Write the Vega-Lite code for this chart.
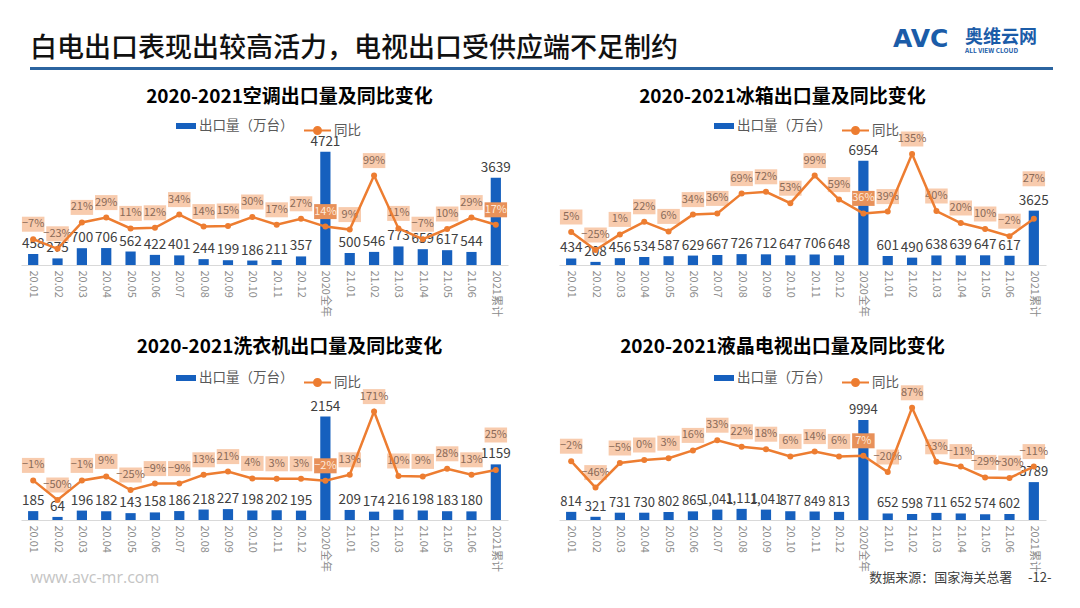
{
  "$schema": "https://vega.github.io/schema/vega-lite/v6.json",
  "background": "white",
  "padding": {"left": 21, "top": 26, "right": 0, "bottom": 10},
  "spacing": 14,
  "resolve": {"scale": {"fill": "independent", "stroke": "independent"}},
  "datasets": {
    "ac": [
      {"cat": "20.01", "vol": 458, "yoy": -0.07}, {"cat": "20.02", "vol": 275, "yoy": -0.23},
      {"cat": "20.03", "vol": 700, "yoy": 0.21}, {"cat": "20.04", "vol": 706, "yoy": 0.29},
      {"cat": "20.05", "vol": 562, "yoy": 0.11}, {"cat": "20.06", "vol": 422, "yoy": 0.12},
      {"cat": "20.07", "vol": 401, "yoy": 0.34}, {"cat": "20.08", "vol": 244, "yoy": 0.14},
      {"cat": "20.09", "vol": 199, "yoy": 0.15}, {"cat": "20.10", "vol": 186, "yoy": 0.30},
      {"cat": "20.11", "vol": 211, "yoy": 0.17}, {"cat": "20.12", "vol": 357, "yoy": 0.27},
      {"cat": "2020全年", "vol": 4721, "yoy": 0.14}, {"cat": "21.01", "vol": 500, "yoy": 0.09},
      {"cat": "21.02", "vol": 546, "yoy": 0.99}, {"cat": "21.03", "vol": 773, "yoy": 0.11},
      {"cat": "21.04", "vol": 659, "yoy": -0.07}, {"cat": "21.05", "vol": 617, "yoy": 0.10},
      {"cat": "21.06", "vol": 544, "yoy": 0.29}, {"cat": "2021累计", "vol": 3639, "yoy": 0.17}
    ],
    "fr": [
      {"cat": "20.01", "vol": 434, "yoy": 0.05}, {"cat": "20.02", "vol": 208, "yoy": -0.25},
      {"cat": "20.03", "vol": 456, "yoy": 0.01}, {"cat": "20.04", "vol": 534, "yoy": 0.22},
      {"cat": "20.05", "vol": 587, "yoy": 0.06}, {"cat": "20.06", "vol": 629, "yoy": 0.34},
      {"cat": "20.07", "vol": 667, "yoy": 0.36}, {"cat": "20.08", "vol": 726, "yoy": 0.69},
      {"cat": "20.09", "vol": 712, "yoy": 0.72}, {"cat": "20.10", "vol": 647, "yoy": 0.53},
      {"cat": "20.11", "vol": 706, "yoy": 0.99}, {"cat": "20.12", "vol": 648, "yoy": 0.59},
      {"cat": "2020全年", "vol": 6954, "yoy": 0.36}, {"cat": "21.01", "vol": 601, "yoy": 0.39},
      {"cat": "21.02", "vol": 490, "yoy": 1.35}, {"cat": "21.03", "vol": 638, "yoy": 0.40},
      {"cat": "21.04", "vol": 639, "yoy": 0.20}, {"cat": "21.05", "vol": 647, "yoy": 0.10},
      {"cat": "21.06", "vol": 617, "yoy": -0.02}, {"cat": "2021累计", "vol": 3625, "yoy": 0.27}
    ],
    "wa": [
      {"cat": "20.01", "vol": 185, "yoy": -0.01}, {"cat": "20.02", "vol": 64, "yoy": -0.50},
      {"cat": "20.03", "vol": 196, "yoy": -0.01}, {"cat": "20.04", "vol": 182, "yoy": 0.09},
      {"cat": "20.05", "vol": 143, "yoy": -0.25}, {"cat": "20.06", "vol": 158, "yoy": -0.09},
      {"cat": "20.07", "vol": 186, "yoy": -0.09}, {"cat": "20.08", "vol": 218, "yoy": 0.13},
      {"cat": "20.09", "vol": 227, "yoy": 0.21}, {"cat": "20.10", "vol": 198, "yoy": 0.04},
      {"cat": "20.11", "vol": 202, "yoy": 0.03}, {"cat": "20.12", "vol": 195, "yoy": 0.03},
      {"cat": "2020全年", "vol": 2154, "yoy": -0.02}, {"cat": "21.01", "vol": 209, "yoy": 0.13},
      {"cat": "21.02", "vol": 174, "yoy": 1.71}, {"cat": "21.03", "vol": 216, "yoy": 0.10},
      {"cat": "21.04", "vol": 198, "yoy": 0.09}, {"cat": "21.05", "vol": 183, "yoy": 0.28},
      {"cat": "21.06", "vol": 180, "yoy": 0.13}, {"cat": "2021累计", "vol": 1159, "yoy": 0.25}
    ],
    "tv": [
      {"cat": "20.01", "vol": 814, "lab": "814", "yoy": -0.02}, {"cat": "20.02", "vol": 321, "lab": "321", "yoy": -0.46},
      {"cat": "20.03", "vol": 731, "lab": "731", "yoy": -0.05}, {"cat": "20.04", "vol": 730, "lab": "730", "yoy": 0.00},
      {"cat": "20.05", "vol": 802, "lab": "802", "yoy": 0.03}, {"cat": "20.06", "vol": 865, "lab": "865", "yoy": 0.16},
      {"cat": "20.07", "vol": 1041, "lab": "1,041", "yoy": 0.33}, {"cat": "20.08", "vol": 1111, "lab": "1,111", "yoy": 0.22},
      {"cat": "20.09", "vol": 1041, "lab": "1,041", "yoy": 0.18}, {"cat": "20.10", "vol": 877, "lab": "877", "yoy": 0.06},
      {"cat": "20.11", "vol": 849, "lab": "849", "yoy": 0.14}, {"cat": "20.12", "vol": 813, "lab": "813", "yoy": 0.06},
      {"cat": "2020全年", "vol": 9994, "lab": "9994", "yoy": 0.07}, {"cat": "21.01", "vol": 652, "lab": "652", "yoy": -0.20},
      {"cat": "21.02", "vol": 598, "lab": "598", "yoy": 0.87}, {"cat": "21.03", "vol": 711, "lab": "711", "yoy": -0.03},
      {"cat": "21.04", "vol": 652, "lab": "652", "yoy": -0.11}, {"cat": "21.05", "vol": 574, "lab": "574", "yoy": -0.29},
      {"cat": "21.06", "vol": 602, "lab": "602", "yoy": -0.30}, {"cat": "2021累计", "vol": 3789, "lab": "3789", "yoy": -0.11}
    ]
  },
  "vconcat": [
    {
      "hconcat": [
        {"width": 9, "height": 3, "data": {"values": [{}]}, "mark": "text", "encoding": {"text": {"value": ""}}},
        {"width": 863, "height": 3, "view": {"fill": "#2B64A0", "stroke": null},
         "title": {"text": "白电出口表现出较高活力，电视出口受供应端不足制约", "anchor": "start", "fontSize": 27, "fontWeight": 500, "color": "#111111", "offset": 0},
         "data": {"values": [{}]}, "mark": "text", "encoding": {"text": {"value": ""}}},
        {"width": 68, "height": 3, "view": {"fill": "#2B64A0", "stroke": null},
         "title": {"text": "AVC", "anchor": "start", "fontSize": 25, "fontWeight": "bold", "font": "DejaVu Sans", "color": "#1B5CA8", "offset": 11},
         "data": {"values": [{}]}, "mark": "text", "encoding": {"text": {"value": ""}}},
        {"width": 92, "height": 3, "view": {"fill": "#2B64A0", "stroke": null},
         "title": {"text": "奥维云网", "subtitle": "ALL VIEW CLOUD", "anchor": "start", "dx": 4, "fontSize": 18, "fontWeight": "bold", "color": "#1B5CA8", "subtitleFontSize": 6.5, "subtitleFontWeight": "bold", "subtitleColor": "#1B5CA8", "subtitlePadding": 1, "offset": 8},
         "data": {"values": [{}]}, "mark": "text", "encoding": {"text": {"value": ""}}}
      ],
      "spacing": 0,
      "bounds": "flush"
    },
    {
      "vconcat": [
        {
          "hconcat": [
            {
              "width": 487, "height": 120,
              "data": {"name": "ac"},
              "title": {"text": "2020-2021空调出口量及同比变化", "dx": 25, "offset": 9},
              "encoding": {"x": {"field": "cat", "type": "nominal", "sort": null, "scale": {"paddingInner": 0.58, "paddingOuter": 0.29}}},
              "layer": [
                {"mark": {"type": "bar"}, "encoding": {"y": {"field": "vol", "type": "quantitative", "scale": {"domain": [0, 5000], "nice": false}, "axis": null},
                  "fill": {"datum": "出口量（万台）", "type": "nominal", "scale": {"range": ["#1660BE"]}, "legend": {"legendX": 155, "legendY": -29, "symbolType": "M-1,-0.3H1V0.3H-1Z", "symbolSize": 400, "labelOffset": 3}}}},
                {"mark": {"type": "point", "shape": "M-1.5,-1H1.5V1H-1.5Z", "size": 225, "filled": true, "opacity": 1, "strokeWidth": 0, "yOffset": -15},
                  "encoding": {"y": {"field": "yoy", "type": "quantitative", "scale": {"domain": [-0.5, 1.5], "nice": false}, "axis": null},
                    "color": {"condition": {"test": "datum.cat==='2020全年'||datum.cat==='2021累计'", "value": "#E8915A"}, "value": "#F8CBAD"}}},
                {"mark": {"type": "text", "fontSize": 11, "dy": -15},
                  "encoding": {"y": {"field": "yoy", "type": "quantitative", "scale": {"domain": [-0.5, 1.5], "nice": false}, "axis": null},
                    "text": {"field": "yoy", "type": "quantitative", "format": ".0%"},
                    "color": {"condition": {"test": "datum.cat==='2020全年'||datum.cat==='2021累计'", "value": "#FDE9D9"}, "value": "#8A6A58"}}},
                {"mark": {"type": "text", "fontSize": 13.5, "baseline": "bottom", "dy": -3, "color": "#404040"},
                  "encoding": {"y": {"field": "vol", "type": "quantitative", "scale": {"domain": [0, 5000], "nice": false}, "axis": null},
                    "text": {"field": "vol", "type": "quantitative", "format": "d"}}},
                {"mark": {"type": "line", "strokeWidth": 2.5},
                  "encoding": {"y": {"field": "yoy", "type": "quantitative", "scale": {"domain": [-0.5, 1.5], "nice": false}, "axis": null},
                    "stroke": {"datum": "同比", "type": "nominal", "scale": {"range": ["#ED7D31"]}, "legend": {"legendX": 282, "legendY": -29, "symbolType": "M-1,0H1M0.26,0A0.26,0.26,0,1,1,-0.26,0A0.26,0.26,0,1,1,0.26,0Z", "symbolSize": 729, "symbolStrokeWidth": 2, "labelOffset": 2, "encode": {"symbols": {"update": {"fill": {"value": "#ED7D31"}}}}}}}},
                {"mark": {"type": "circle", "size": 36, "opacity": 1, "color": "#ED7D31"},
                  "encoding": {"y": {"field": "yoy", "type": "quantitative", "scale": {"domain": [-0.5, 1.5], "nice": false}, "axis": null}}}
              ],
              "resolve": {"scale": {"y": "independent"}}
            },
            {
              "width": 487, "height": 120,
              "data": {"name": "fr"},
              "title": {"text": "2020-2021冰箱出口量及同比变化", "dx": -20, "offset": 9},
              "encoding": {"x": {"field": "cat", "type": "nominal", "sort": null, "scale": {"paddingInner": 0.58, "paddingOuter": 0.29}}},
              "layer": [
                {"mark": {"type": "bar"}, "encoding": {"y": {"field": "vol", "type": "quantitative", "scale": {"domain": [0, 8000], "nice": false}, "axis": null},
                  "fill": {"datum": "出口量（万台）", "type": "nominal", "scale": {"range": ["#1660BE"]}, "legend": {"legendX": 155, "legendY": -29, "symbolType": "M-1,-0.3H1V0.3H-1Z", "symbolSize": 400, "labelOffset": 3}}}},
                {"transform": [{"filter": "datum.cat!=='2021累计'"}],
                  "mark": {"type": "point", "shape": "M-1.5,-1H1.5V1H-1.5Z", "size": 225, "filled": true, "opacity": 1, "strokeWidth": 0, "yOffset": -15},
                  "encoding": {"y": {"field": "yoy", "type": "quantitative", "scale": {"domain": [-0.5, 1.5], "nice": false}, "axis": null},
                    "color": {"condition": {"test": "datum.cat==='2020全年'", "value": "#E8915A"}, "value": "#F8CBAD"}}},
                {"transform": [{"filter": "datum.cat!=='2021累计'"}],
                  "mark": {"type": "text", "fontSize": 11, "dy": -15},
                  "encoding": {"y": {"field": "yoy", "type": "quantitative", "scale": {"domain": [-0.5, 1.5], "nice": false}, "axis": null},
                    "text": {"field": "yoy", "type": "quantitative", "format": ".0%"},
                    "color": {"condition": {"test": "datum.cat==='2020全年'", "value": "#FDE9D9"}, "value": "#8A6A58"}}},
                {"transform": [{"filter": "datum.cat==='2021累计'"}],
                  "mark": {"type": "point", "shape": "M-1.5,-1H1.5V1H-1.5Z", "size": 225, "filled": true, "opacity": 1, "strokeWidth": 0, "yOffset": -40, "color": "#F8CBAD"},
                  "encoding": {"y": {"field": "yoy", "type": "quantitative", "scale": {"domain": [-0.5, 1.5], "nice": false}, "axis": null}}},
                {"transform": [{"filter": "datum.cat==='2021累计'"}],
                  "mark": {"type": "text", "fontSize": 11, "dy": -40, "color": "#8A6A58"},
                  "encoding": {"y": {"field": "yoy", "type": "quantitative", "scale": {"domain": [-0.5, 1.5], "nice": false}, "axis": null},
                    "text": {"field": "yoy", "type": "quantitative", "format": ".0%"}}},
                {"mark": {"type": "text", "fontSize": 13.5, "baseline": "bottom", "dy": -3, "color": "#404040"},
                  "encoding": {"y": {"field": "vol", "type": "quantitative", "scale": {"domain": [0, 8000], "nice": false}, "axis": null},
                    "text": {"field": "vol", "type": "quantitative", "format": "d"}}},
                {"mark": {"type": "line", "strokeWidth": 2.5},
                  "encoding": {"y": {"field": "yoy", "type": "quantitative", "scale": {"domain": [-0.5, 1.5], "nice": false}, "axis": null},
                    "stroke": {"datum": "同比", "type": "nominal", "scale": {"range": ["#ED7D31"]}, "legend": {"legendX": 282, "legendY": -29, "symbolType": "M-1,0H1M0.26,0A0.26,0.26,0,1,1,-0.26,0A0.26,0.26,0,1,1,0.26,0Z", "symbolSize": 729, "symbolStrokeWidth": 2, "labelOffset": 2, "encode": {"symbols": {"update": {"fill": {"value": "#ED7D31"}}}}}}}},
                {"mark": {"type": "circle", "size": 36, "opacity": 1, "color": "#ED7D31"},
                  "encoding": {"y": {"field": "yoy", "type": "quantitative", "scale": {"domain": [-0.5, 1.5], "nice": false}, "axis": null}}}
              ],
              "resolve": {"scale": {"y": "independent"}}
            }
          ],
          "spacing": 51,
          "bounds": "flush",
          "resolve": {"scale": {"fill": "independent", "stroke": "independent"}}
        },
        {
          "hconcat": [
            {
              "width": 487, "height": 120,
              "data": {"name": "wa"},
              "title": {"text": "2020-2021洗衣机出口量及同比变化", "dx": 25, "offset": 11},
              "encoding": {"x": {"field": "cat", "type": "nominal", "sort": null, "scale": {"paddingInner": 0.58, "paddingOuter": 0.29},
                "axis": {"title": "www.avc-mr.com", "titleX": 9, "titleY": 57, "titleAlign": "left", "titleBaseline": "middle", "titleFont": "Open Sans", "titleFontSize": 16, "titleFontWeight": "normal", "titleColor": "#C4C4C4"}}},
              "layer": [
                {"mark": {"type": "bar"}, "encoding": {"y": {"field": "vol", "type": "quantitative", "scale": {"domain": [0, 2500], "nice": false}, "axis": null},
                  "fill": {"datum": "出口量（万台）", "type": "nominal", "scale": {"range": ["#1660BE"]}, "legend": {"legendX": 155, "legendY": -32, "symbolType": "M-1,-0.3H1V0.3H-1Z", "symbolSize": 400, "labelOffset": 3}}}},
                {"transform": [{"filter": "datum.cat!=='2021累计'"}],
                  "mark": {"type": "point", "shape": "M-1.5,-1H1.5V1H-1.5Z", "size": 225, "filled": true, "opacity": 1, "strokeWidth": 0, "yOffset": -15},
                  "encoding": {"y": {"field": "yoy", "type": "quantitative", "scale": {"domain": [-1, 2], "nice": false}, "axis": null},
                    "color": {"condition": {"test": "datum.cat==='2020全年'", "value": "#E8915A"}, "value": "#F8CBAD"}}},
                {"transform": [{"filter": "datum.cat!=='2021累计'"}],
                  "mark": {"type": "text", "fontSize": 11, "dy": -15},
                  "encoding": {"y": {"field": "yoy", "type": "quantitative", "scale": {"domain": [-1, 2], "nice": false}, "axis": null},
                    "text": {"field": "yoy", "type": "quantitative", "format": ".0%"},
                    "color": {"condition": {"test": "datum.cat==='2020全年'", "value": "#FDE9D9"}, "value": "#8A6A58"}}},
                {"transform": [{"filter": "datum.cat==='2021累计'"}],
                  "mark": {"type": "point", "shape": "M-1.5,-1H1.5V1H-1.5Z", "size": 225, "filled": true, "opacity": 1, "strokeWidth": 0, "yOffset": -35, "color": "#F8CBAD"},
                  "encoding": {"y": {"field": "yoy", "type": "quantitative", "scale": {"domain": [-1, 2], "nice": false}, "axis": null}}},
                {"transform": [{"filter": "datum.cat==='2021累计'"}],
                  "mark": {"type": "text", "fontSize": 11, "dy": -35, "color": "#8A6A58"},
                  "encoding": {"y": {"field": "yoy", "type": "quantitative", "scale": {"domain": [-1, 2], "nice": false}, "axis": null},
                    "text": {"field": "yoy", "type": "quantitative", "format": ".0%"}}},
                {"mark": {"type": "text", "fontSize": 13.5, "baseline": "bottom", "dy": -3, "color": "#404040"},
                  "encoding": {"y": {"field": "vol", "type": "quantitative", "scale": {"domain": [0, 2500], "nice": false}, "axis": null},
                    "text": {"field": "vol", "type": "quantitative", "format": "d"}}},
                {"mark": {"type": "line", "strokeWidth": 2.5},
                  "encoding": {"y": {"field": "yoy", "type": "quantitative", "scale": {"domain": [-1, 2], "nice": false}, "axis": null},
                    "stroke": {"datum": "同比", "type": "nominal", "scale": {"range": ["#ED7D31"]}, "legend": {"legendX": 282, "legendY": -32, "symbolType": "M-1,0H1M0.26,0A0.26,0.26,0,1,1,-0.26,0A0.26,0.26,0,1,1,0.26,0Z", "symbolSize": 729, "symbolStrokeWidth": 2, "labelOffset": 2, "encode": {"symbols": {"update": {"fill": {"value": "#ED7D31"}}}}}}}},
                {"mark": {"type": "circle", "size": 36, "opacity": 1, "color": "#ED7D31"},
                  "encoding": {"y": {"field": "yoy", "type": "quantitative", "scale": {"domain": [-1, 2], "nice": false}, "axis": null}}}
              ],
              "resolve": {"scale": {"y": "independent"}}
            },
            {
              "width": 487, "height": 120,
              "data": {"name": "tv"},
              "title": {"text": "2020-2021液晶电视出口量及同比变化", "dx": -20, "offset": 11},
              "encoding": {"x": {"field": "cat", "type": "nominal", "sort": null, "scale": {"paddingInner": 0.58, "paddingOuter": 0.29},
                "axis": {"title": "数据来源：国家海关总署　 -12-", "titleX": 492, "titleY": 57, "titleAlign": "right", "titleBaseline": "middle", "titleFontSize": 13, "titleFontWeight": "normal", "titleColor": "#404040"}}},
              "layer": [
                {"mark": {"type": "bar"}, "encoding": {"y": {"field": "vol", "type": "quantitative", "scale": {"domain": [0, 12000], "nice": false}, "axis": null},
                  "fill": {"datum": "出口量（万台）", "type": "nominal", "scale": {"range": ["#1660BE"]}, "legend": {"legendX": 155, "legendY": -32, "symbolType": "M-1,-0.3H1V0.3H-1Z", "symbolSize": 400, "labelOffset": 3}}}},
                {"mark": {"type": "point", "shape": "M-1.5,-1H1.5V1H-1.5Z", "size": 225, "filled": true, "opacity": 1, "strokeWidth": 0, "yOffset": -15},
                  "encoding": {"y": {"field": "yoy", "type": "quantitative", "scale": {"domain": [-1, 1], "nice": false}, "axis": null},
                    "color": {"condition": {"test": "datum.cat==='2020全年'", "value": "#E8915A"}, "value": "#F8CBAD"}}},
                {"mark": {"type": "text", "fontSize": 11, "dy": -15},
                  "encoding": {"y": {"field": "yoy", "type": "quantitative", "scale": {"domain": [-1, 1], "nice": false}, "axis": null},
                    "text": {"field": "yoy", "type": "quantitative", "format": ".0%"},
                    "color": {"condition": {"test": "datum.cat==='2020全年'", "value": "#FDE9D9"}, "value": "#8A6A58"}}},
                {"mark": {"type": "text", "fontSize": 13, "baseline": "bottom", "dy": -3, "color": "#404040"},
                  "encoding": {"y": {"field": "vol", "type": "quantitative", "scale": {"domain": [0, 12000], "nice": false}, "axis": null},
                    "text": {"field": "lab", "type": "nominal"}}},
                {"mark": {"type": "line", "strokeWidth": 2.5},
                  "encoding": {"y": {"field": "yoy", "type": "quantitative", "scale": {"domain": [-1, 1], "nice": false}, "axis": null},
                    "stroke": {"datum": "同比", "type": "nominal", "scale": {"range": ["#ED7D31"]}, "legend": {"legendX": 282, "legendY": -32, "symbolType": "M-1,0H1M0.26,0A0.26,0.26,0,1,1,-0.26,0A0.26,0.26,0,1,1,0.26,0Z", "symbolSize": 729, "symbolStrokeWidth": 2, "labelOffset": 2, "encode": {"symbols": {"update": {"fill": {"value": "#ED7D31"}}}}}}}},
                {"mark": {"type": "circle", "size": 36, "opacity": 1, "color": "#ED7D31"},
                  "encoding": {"y": {"field": "yoy", "type": "quantitative", "scale": {"domain": [-1, 1], "nice": false}, "axis": null}}}
              ],
              "resolve": {"scale": {"y": "independent"}}
            }
          ],
          "spacing": 51,
          "bounds": "flush",
          "resolve": {"scale": {"fill": "independent", "stroke": "independent"}}
        }
      ],
      "spacing": 21,
      "resolve": {"scale": {"fill": "independent", "stroke": "independent"}}
    }
  ],
  "config": {
    "font": "Noto Sans CJK SC",
    "view": {"stroke": null},
    "title": {"fontSize": 19, "fontWeight": "bold", "color": "#000000"},
    "axisX": {"title": null, "labelAngle": 90, "ticks": false, "domainColor": "#D9D9D9", "labelColor": "#8C8C8C", "labelFontSize": 11, "labelPadding": 5},
    "legend": {"orient": "none", "title": null, "labelFontSize": 13.5, "labelColor": "#595959", "padding": 0, "symbolStrokeWidth": 0}
  }
}
